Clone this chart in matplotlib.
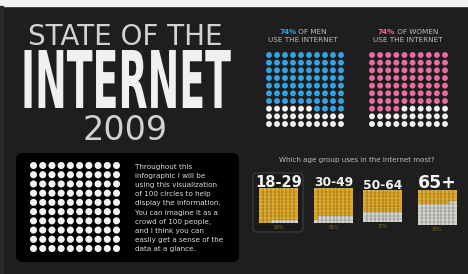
import matplotlib
matplotlib.use("Agg")
import matplotlib.pyplot as plt
import numpy as np
from matplotlib.patches import FancyBboxPatch, Rectangle
from matplotlib.colors import ListedColormap
from matplotlib.patheffects import AbstractPathEffect
from matplotlib.transforms import Affine2D

# ---------------- data ----------------
title_top = "STATE OF THE"
title_main = "INTERNET"
title_year = "2009"

men_pct = 74
women_pct = 74
men_head = ["74%", " OF MEN", "USE THE INTERNET"]
women_head = ["74%", " OF WOMEN", "USE THE INTERNET"]

question = "Which age group uses in the internet most?"
age_groups = ["18-29", "30-49", "50-64", "65+"]
age_pct = [93, 81, 70, 38]
age_pct_labels = ["93%", "81%", "70%", "38%"]

intro_lines = [
    "Throughout this",
    "infographic I will be",
    "using this visualization",
    "of 100 circles to help",
    "display the information.",
    "You can imagine it as a",
    "crowd of 100 people,",
    "and I think you can",
    "easily get a sense of the",
    "data at a glance.",
]
intro_count = 100

# ---------------- style ----------------
BG = "#1e1e1e"
BLUE = "#2fa4e7"
PINK = "#ea6aa3"
GOLD = "#e2ad2c"
AGEGRAY = "#d6d6d6"
DOT = "#f2f2f2"
TXT = "#d2d2d2"
SUB = "#bdbdbd"

W, H = 468, 274
fig = plt.figure(figsize=(W / 100, H / 100), dpi=100, facecolor=BG)
ax = fig.add_axes([0, 0, 1, 1])
ax.set_xlim(0, W)
ax.set_ylim(H, 0)
ax.axis("off")
ax.set_facecolor(BG)

# frame strips of the screenshot
ax.add_patch(Rectangle((0, 0), W, 6, color="#f2f2f2", zorder=0))
ax.add_patch(Rectangle((0, 6), 3, H - 6, color="#2a2a2a", zorder=0))


class Stretch(AbstractPathEffect):
    """Scale a text's glyph outlines about an anchor (display coords)."""

    def __init__(self, sx=1.0, sy=1.0, anchor=(0, 0)):
        super().__init__()
        self.sx, self.sy, self.anchor = sx, sy, anchor

    def draw_path(self, renderer, gc, tpath, affine, rgbFace=None):
        cx, cy = self.anchor
        a = affine + Affine2D().translate(-cx, -cy).scale(self.sx, self.sy) \
            .translate(cx, cy)
        renderer.draw_path(gc, tpath, a, rgbFace)


# ---------------- title ----------------
ax.text(125, 45, title_top, color=TXT, fontsize=20, family="DejaVu Sans",
        ha="center", va="baseline")
main_xy = (126, 108)
t_main = ax.text(main_xy[0], main_xy[1], title_main, color="#f0f0f0",
                 fontsize=39, family=["DejaVu Sans"], stretch="condensed",
                 weight="bold", ha="center", va="baseline")
ax.text(125, 140, title_year, color=TXT, fontsize=24, family="DejaVu Sans",
        ha="center", va="baseline")


def dot_grid(x0, x1, y0, y1, n_on, on_color, off_color, size, order="lr"):
    xs = np.linspace(x0, x1, 10)
    ys = np.linspace(y0, y1, 10)
    X, Y = np.meshgrid(xs, ys)
    if order == "rl":
        X = X[:, ::-1]
    flat_x = X.ravel()
    flat_y = Y.ravel()
    cols = [on_color if i < n_on else off_color for i in range(100)]
    ax.scatter(flat_x, flat_y, s=size, c=cols, linewidths=0, zorder=3)


# ---------------- men / women ----------------
def header(cx, y, parts, color):
    t1 = ax.text(0, y, parts[0], color=color, fontsize=5.2, weight="bold",
                 ha="left", va="center")
    t2 = ax.annotate(parts[1], xy=(1, 0.5), xycoords=t1, color=SUB,
                     fontsize=5.2, ha="left", va="center")
    ax.text(cx, y + 8.5, parts[2], color=SUB, fontsize=5.2, ha="center",
            va="center")
    return t1, t2


heads = [header(303, 32, men_head, BLUE), header(408, 32, women_head, PINK)]
dot_grid(269, 341, 55, 124, men_pct, BLUE, DOT, 18, order="rl")
dot_grid(372, 445, 55, 124, women_pct, PINK, DOT, 18, order="lr")

# ---------------- intro box ----------------
ax.add_patch(FancyBboxPatch((16, 153), 223, 109,
                            boxstyle="round,pad=0,rounding_size=7",
                            fc="black", ec="none", zorder=1))
dot_grid(33.5, 116.5, 165.5, 248.5, intro_count, DOT, DOT, 26)
for i, line in enumerate(intro_lines):
    ax.text(135, 166.5 + i * 9.2, line, color="#dcdcdc", fontsize=5.2,
            ha="left", va="center", zorder=3)

# ---------------- age groups ----------------
ax.text(357, 160, question, color=SUB, fontsize=5.1, ha="center",
        va="center")

ax.add_patch(FancyBboxPatch((253, 173), 50, 59,
                            boxstyle="round,pad=0,rounding_size=4",
                            fc="#1a1a1a", ec="#3c3c3c", lw=0.9, zorder=1))

grid_boxes = [(259, 298, 188, 223), (314, 353, 188, 223),
              (363, 402, 190, 222), (418, 457, 190, 225)]
label_base = [187, 186, 189, 188]
label_size = [10.5, 8.8, 8.8, 12.5]
cmap = ListedColormap([AGEGRAY, GOLD])
for k, (grp, pct, plab) in enumerate(zip(age_groups, age_pct, age_pct_labels)):
    x0, x1, y0, y1 = grid_boxes[k]
    vals = (np.arange(100) < pct).astype(float).reshape(10, 10)
    xe = np.linspace(x0, x1, 11)
    ye = np.linspace(y0, y1, 11)
    ax.pcolormesh(xe, ye, vals, cmap=cmap, vmin=0, vmax=1,
                  edgecolors="none", linewidth=0, zorder=2)
    ax.vlines(xe[1:-1], y0, y1, color="#3a2c10", lw=0.35, alpha=0.75,
              zorder=2.5)
    ax.hlines(ye[1:-1], x0, x1, color="#3a2c10", lw=0.3, alpha=0.5,
              zorder=2.5)
    cx = (x0 + x1) / 2
    ax.text(cx, label_base[k], grp, color="#f4f4f4", fontsize=label_size[k],
            weight="bold", ha="center", va="baseline", zorder=3)
    ax.text(cx, y1 + 4.5, plab, color="#8a6a1c", fontsize=3.4,
            ha="center", va="center", zorder=3)

# fit the big title: width 208 px, cap height 58 px
fig.canvas.draw()
r = fig.canvas.get_renderer()
w_main = t_main.get_window_extent(r).width
fs = 39 * 210.0 / w_main
t_main.set_fontsize(fs)
cap_px = 0.729 * fs * 100 / 72.0
anchor = ax.transData.transform(main_xy)
t_main.set_path_effects([Stretch(1.0, 58.0 / cap_px, tuple(anchor))])

for (t1, t2), cx in zip(heads, [303, 408]):
    w = t1.get_window_extent(r).width + t2.get_window_extent(r).width
    t1.set_x(cx - w / 2)

fig.savefig("out.png", dpi=100, facecolor=BG)
